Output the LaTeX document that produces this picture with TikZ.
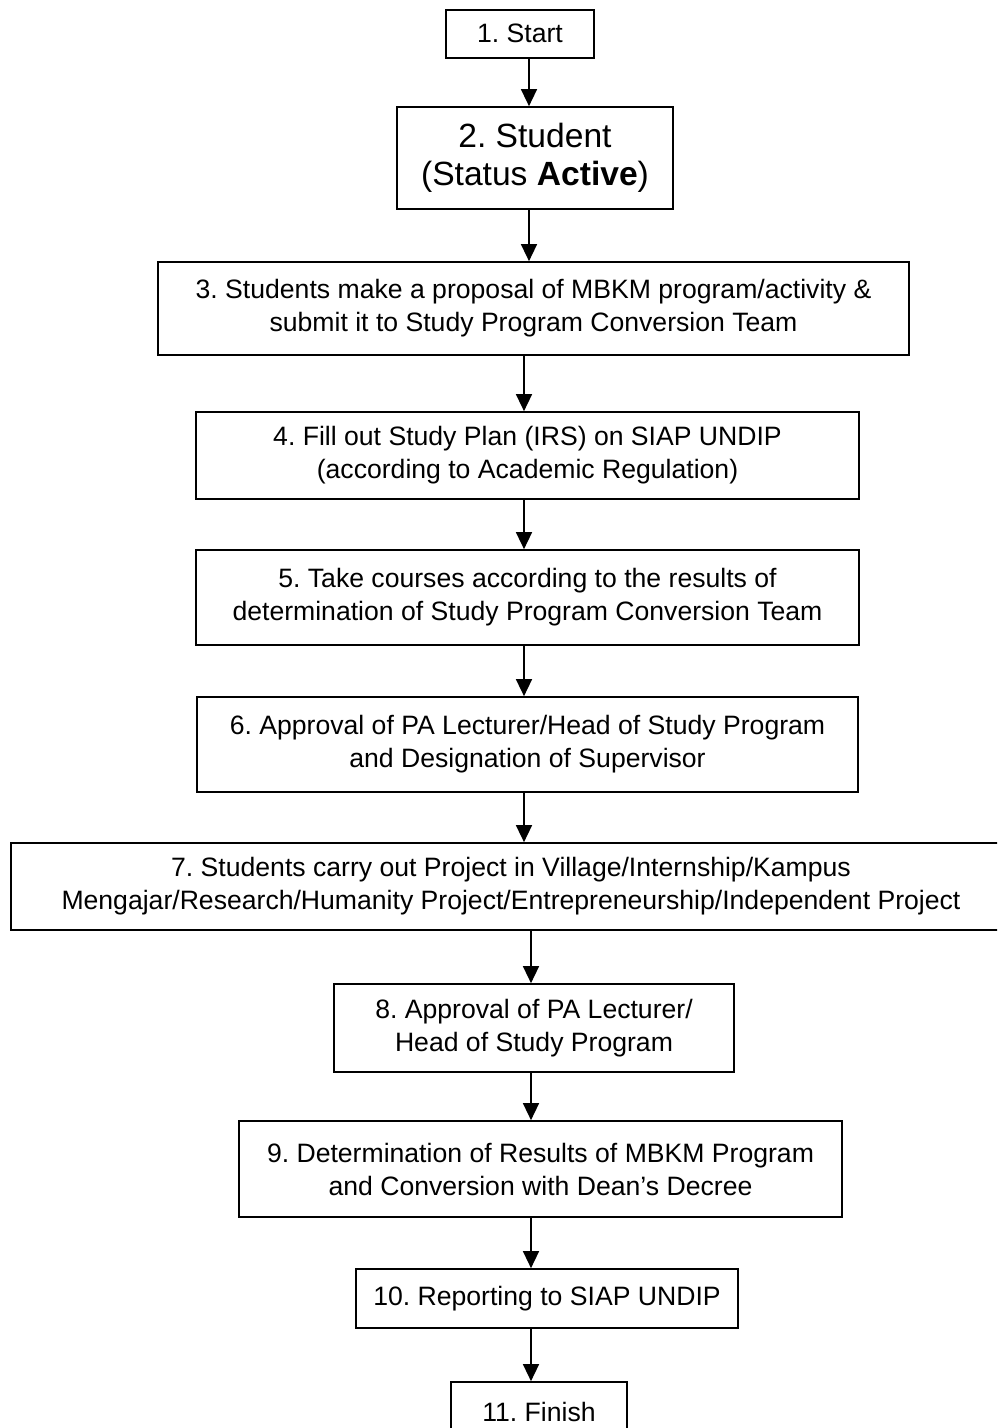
\documentclass[tikz,border=0pt]{standalone}
\usepackage{fontspec}
\setmainfont{Liberation Sans}
\usetikzlibrary{arrows.meta}
\frenchspacing
\begin{document}
\begin{tikzpicture}[x=0.5pt,y=-0.5pt,
  box/.style={draw=black,line width=0.85pt,inner sep=0pt,align=center,
    font=\fontsize{13.3pt}{16.5pt}\selectfont\frenchspacing},
  bigbox/.style={box,font=\fontsize{16.8pt}{19pt}\selectfont\frenchspacing},
  arr/.style={line width=0.75pt,-{Triangle[length=8.5pt,width=8pt]}}]
\clip (0,0) rectangle (997,1428);
\fill[white] (0,0) rectangle (997,1428);
% boxes: center x, center y, width, height in px
\node[box,minimum width=74pt,minimum height=24pt,text depth=0.5pt] (b1) at (520,34) {1. Start};
\node[bigbox,minimum width=138pt,minimum height=51pt] (b2) at (535,158) {2. Student\\(Status \textbf{Active})};
\node[box,minimum width=375.5pt,minimum height=46.5pt] (b3) at (533.5,308.5) {3. Students make a proposal of MBKM program/activity \&\\submit it to Study Program Conversion Team};
\node[box,minimum width=331.5pt,minimum height=43.5pt] (b4) at (527.5,455.5) {4. Fill out Study Plan (IRS) on SIAP UNDIP\\(according to Academic Regulation)};
\node[box,minimum width=331.5pt,minimum height=47.5pt] (b5) at (527.5,597.5) {5. Take courses according to the results of\\determination of Study Program Conversion Team};
\node[box,minimum width=330.5pt,minimum height=47.5pt] (b6) at (527.5,744.5) {6. Approval of PA Lecturer/Head of Study Program\\and Designation of Supervisor};
\node[box,minimum width=500pt,minimum height=43.5pt] (b7) at (511,886.5) {7. Students carry out Project in Village/Internship/Kampus\\Mengajar/Research/Humanity Project/Entrepreneurship/Independent Project};
\node[box,minimum width=200pt,minimum height=44pt] (b8) at (534,1028) {8. Approval of PA Lecturer/\\Head of Study Program};
\node[box,minimum width=301.5pt,minimum height=48pt] (b9) at (540.5,1169) {9. Determination of Results of MBKM Program\\and Conversion with Dean’s Decree};
\node[box,minimum width=191pt,minimum height=29.5pt] (b10) at (547,1298.5) {10. Reporting to SIAP UNDIP};
\node[box,minimum width=88pt,minimum height=30pt] (b11) at (539,1412) {11. Finish};
% arrow x positions
\coordinate (xa) at (529,0);
\coordinate (xb) at (524,0);
\coordinate (xc) at (531,0);
\draw[arr] (b1.south -| xa) -- (b2.north -| xa);
\draw[arr] (b2.south -| xa) -- (b3.north -| xa);
\draw[arr] (b3.south -| xb) -- (b4.north -| xb);
\draw[arr] (b4.south -| xb) -- (b5.north -| xb);
\draw[arr] (b5.south -| xb) -- (b6.north -| xb);
\draw[arr] (b6.south -| xb) -- (b7.north -| xb);
\draw[arr] (b7.south -| xc) -- (b8.north -| xc);
\draw[arr] (b8.south -| xc) -- (b9.north -| xc);
\draw[arr] (b9.south -| xc) -- (b10.north -| xc);
\draw[arr] (b10.south -| xc) -- (b11.north -| xc);
\end{tikzpicture}
\end{document}
